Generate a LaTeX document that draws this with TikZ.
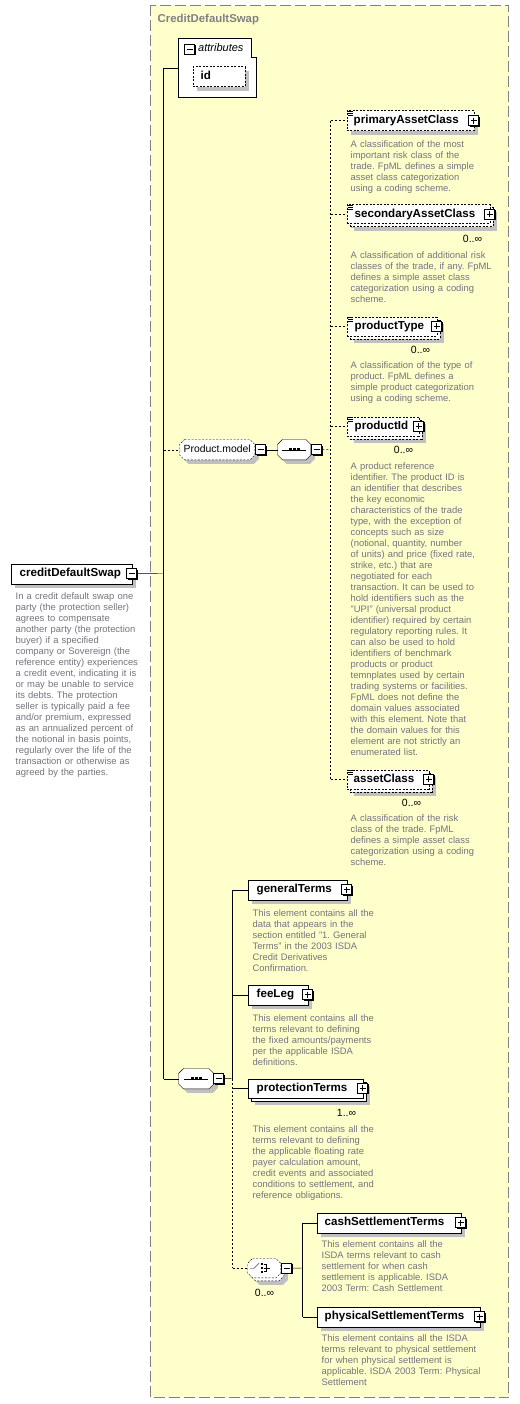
\documentclass[tikz,border=0pt]{standalone}
\usepackage{fontspec}
\setmainfont{Liberation Sans}
\usetikzlibrary{shadows,calc}
\definecolor{yel}{RGB}{255,255,204}
\definecolor{frame}{RGB}{128,128,128}
\definecolor{shd}{RGB}{192,192,192}
\definecolor{dtext}{RGB}{115,115,125}
\newcommand\lblfont{\fontsize{11.6}{13}\selectfont\bfseries}
\newcommand\titfont{\fontsize{11.4}{13}\selectfont\bfseries}
\newcommand\regfont{\fontsize{10.4}{12}\selectfont}
\newcommand\itfont{\fontsize{11}{13}\selectfont\itshape}
\newcommand\multfont{\fontsize{10.5}{12}\selectfont}
\newcommand\descfont{\fontsize{9.4}{11}\selectfont}
\newcommand\fs{\rule{0pt}{8pt}}
\newcommand\octa[3]{\path[#2] ([xshift=#3]#1.north west) -- ([xshift=-#3]#1.north east) -- ([yshift=-#3]#1.north east) -- ([yshift=#3]#1.south east) -- ([xshift=-#3]#1.south east) -- ([xshift=#3]#1.south west) -- ([yshift=#3]#1.south west) -- ([yshift=-#3]#1.north west) -- cycle;}
\newcommand\optmark[1]{\foreach \k in {1,3,5}{\draw[line width=0.9pt] ([xshift=1pt,yshift=-\k pt]#1.north west) -- ++(5pt,0pt);}}
\newcommand\seqicon[1]{\draw ([xshift=-12pt]#1.center) -- ([xshift=12pt]#1.center);
  \foreach \d in {-5.5,-1.5,2.5}{\fill ([xshift=\d pt, yshift=-1.5pt]#1.center) rectangle ++(3pt,3pt);}}
\pgfdeclarelayer{back}
\pgfdeclarelayer{shapes}
\pgfsetlayers{back,shapes,main}
\frenchspacing
\begin{document}
\begin{tikzpicture}[x=1pt,y=-1pt,line width=1pt,
  elbox/.style={draw=black, fill=white, anchor=north west, inner xsep=0pt, inner ysep=0pt,
    minimum height=20pt, text height=8.5pt, text depth=2.5pt, align=left, font=\lblfont,
    general shadow={fill=shd, shadow xshift=4pt, shadow yshift=-4pt}},
  opt/.style={dash pattern=on 2pt off 1.5pt},
  multi/.style={minimum height=19pt,
    general shadow={fill=shd, shadow xshift=7pt, shadow yshift=-7pt},
    general shadow={draw=black, fill=white, shadow xshift=3pt, shadow yshift=-3pt}},
  pmb/.style={draw=black, fill=white, minimum size=10pt, inner sep=0pt, line width=1pt,
    general shadow={fill=black, shadow xshift=1pt, shadow yshift=-1pt}},
  minusb/.style={pmb, path picture={\draw[line width=1pt] ([xshift=2pt]path picture bounding box.west) -- ([xshift=-2pt]path picture bounding box.east);}},
  plusb/.style={pmb, path picture={\draw[line width=1pt] ([xshift=2pt]path picture bounding box.west) -- ([xshift=-2pt]path picture bounding box.east);
      \draw[line width=1pt] ([yshift=-2pt]path picture bounding box.north) -- ([yshift=2pt]path picture bounding box.south);}},
  desc/.style={anchor=north west, inner sep=0pt, text width=200pt, align=left, font=\descfont, text=dtext},
  mult/.style={inner sep=0pt, font=\multfont},
  oct/.style={anchor=north west, inner sep=0pt, minimum height=20pt, font=\regfont, text height=8pt, text depth=2pt},
  dcon/.style={dash pattern=on 2pt off 2pt}]
\useasboundingbox (0,0) rectangle (519,1404);
\begin{scope}[shift={(0.5,0.5)}]
\begin{pgfonlayer}{back}
\draw[frame, dash pattern=on 11pt off 4pt, fill=yel] (150,5) rectangle (508,1397);
\end{pgfonlayer}
\node[anchor=west, inner sep=0pt, font=\titfont, text=frame, text height=8pt, text depth=2pt] (title) at (157,19) {CreditDefaultSwap};

% attributes
\path[draw=black, fill=white] (178,38) -- (251,38) -- (251,57) -- (256,57) -- (256,97) -- (178,97) -- cycle;
\node[minusb] (attrm) at (189,49) {};
\node[anchor=west, inner sep=0pt, font=\itfont, text height=8pt, text depth=2pt] (attr) at (197.5,48) {attributes};
\node[elbox, opt, text width=52pt] (id) at (192,66) {\hspace*{8pt}id};
\coordinate (attrL) at (178,68);

% root
\node[elbox, text width=121pt] (cds) at (10,563) {\hspace*{9pt}creditDefaultSwap};
\node[minusb] (cdsm) at (cds.east) {};
\node[desc, text width=160pt] (cdsd) at (15,590.5) {\fs In a credit default swap one\\party (the protection seller)\\agrees to compensate\\another party (the protection\\buyer) if a specified\\company or Sovereign (the\\reference entity) experiences\\a credit event, indicating it is\\or may be unable to service\\its debts. The protection\\seller is typically paid a fee\\and/or premium, expressed\\as an annualized percent of\\the notional in basis points,\\regularly over the life of the\\transaction or otherwise as\\agreed by the parties.};

% Product.model group
\node[oct, minimum width=75pt] (pm) at (179,439) {Product.model};
\node[minusb] (pmm) at ([xshift=6pt]pm.east) {};
\node[oct, minimum width=33pt] (s1) at (277,439) {};
\node[minusb] (s1m) at ([xshift=6pt]s1.east) {};
\seqicon{s1}

% product children
\node[elbox, opt, text width=127pt] (pac) at (346,110) {\hspace*{7pt}primaryAssetClass};
\optmark{pac}
\node[plusb] (pacp) at (pac.east) {};
\node[desc] (pacd) at (350,138.5) {\fs A classification of the most\\important risk class of the\\trade. FpML defines a simple\\asset class categorization\\using a coding scheme.};

\node[elbox, opt, multi, text width=143pt] (sac) at (346,204) {\hspace*{8pt}secondaryAssetClass};
\optmark{sac}
\node[plusb] (sacp) at (sac.east) {};
\node[mult] (sacn) at (472,238) {0..∞};
\node[desc] (sacd) at (350,249.5) {\fs A classification of additional risk\\classes of the trade, if any. FpML\\defines a simple asset class\\categorization using a coding\\scheme.};

\node[elbox, opt, multi, text width=90pt] (ptp) at (346,316) {\hspace*{8pt}productType};
\optmark{ptp}
\node[plusb] (ptpp) at (ptp.east) {};
\node[mult] (ptpn) at (420,349) {0..∞};
\node[desc] (ptpd) at (350,359.5) {\fs A classification of the type of\\product. FpML defines a\\simple product categorization\\using a coding scheme.};

\node[elbox, opt, multi, text width=72pt] (pid) at (346,416) {\hspace*{8pt}productId};
\optmark{pid}
\node[plusb] (pidp) at (pid.east) {};
\node[mult] (pidn) at (403,449) {0..∞};
\node[desc] (pidd) at (350,460.5) {\fs A product reference\\identifier. The product ID is\\an identifier that describes\\the key economic\\characteristics of the trade\\type, with the exception of\\concepts such as size\\(notional, quantity, number\\of units) and price (fixed rate,\\strike, etc.) that are\\negotiated for each\\transaction. It can be used to\\hold identifiers such as the\\"UPI" (universal product\\identifier) required by certain\\regulatory reporting rules. It\\can also be used to hold\\identifiers of benchmark\\products or product\\temnplates used by certain\\trading systems or facilities.\\FpML does not define the\\domain values associated\\with this element. Note that\\the domain values for this\\element are not strictly an\\enumerated list.};

\node[elbox, opt, multi, text width=82pt] (ac) at (346,769) {\hspace*{7pt}assetClass};
\optmark{ac}
\node[plusb] (acp) at (ac.east) {};
\node[mult] (acn) at (411,802) {0..∞};
\node[desc] (acd) at (350,812.5) {\fs A classification of the risk\\class of the trade. FpML\\defines a simple asset class\\categorization using a coding\\scheme.};

% main sequence
\node[oct, minimum width=35pt] (s2) at (178,1068) {};
\node[minusb] (s2m) at ([xshift=5pt]s2.east) {};
\seqicon{s2}

\node[elbox, text width=99pt] (gt) at (247,879) {\hspace*{9pt}generalTerms};
\node[plusb] (gtp) at (gt.east) {};
\node[desc] (gtd) at (252,907.5) {\fs This element contains all the\\data that appears in the\\section entitled "1. General\\Terms" in the 2003 ISDA\\Credit Derivatives\\Confirmation.};

\node[elbox, text width=60pt] (fl) at (247,984) {\hspace*{9pt}feeLeg};
\node[plusb] (flp) at (fl.east) {};
\node[desc] (fld) at (252,1012.5) {\fs This element contains all the\\terms relevant to defining\\the fixed amounts/payments\\per the applicable ISDA\\definitions.};

\node[elbox, multi, text width=115pt] (pt) at (247,1078) {\hspace*{9pt}protectionTerms};
\node[plusb] (ptp2) at (pt.east) {};
\node[mult] (ptn) at (346,1112) {1..∞};
\node[desc] (ptd) at (252,1123.5) {\fs This element contains all the\\terms relevant to defining\\the applicable floating rate\\payer calculation amount,\\credit events and associated\\conditions to settlement, and\\reference obligations.};

% choice
\node[oct, minimum width=33pt, minimum height=19pt] (ch) at (247,1258) {};
\node[minusb] (chm) at ([xshift=6pt]ch.east) {};
\node[mult] (chn) at (264,1292) {0..∞};
\draw ([xshift=-14pt]ch.center) -- ([xshift=-10pt]ch.center) -- ([xshift=-5pt,yshift=5pt]ch.center);
\foreach \d in {-4,0,4}{\fill ([xshift=-3.5pt,yshift=\d pt-1pt]ch.center) rectangle ++(2pt,2pt);}
\draw[line width=0.9pt] ([xshift=-0.5pt,yshift=3.5pt]ch.center) -- ([xshift=2.5pt,yshift=3.5pt]ch.center) -- ([xshift=2.5pt,yshift=-3.5pt]ch.center) -- ([xshift=-0.5pt,yshift=-3.5pt]ch.center);
\draw[line width=0.9pt] ([xshift=-0.5pt]ch.center) -- ([xshift=6pt]ch.center);

\node[elbox, text width=144pt] (cs) at (316,1212) {\hspace*{8pt}cashSettlementTerms};
\node[plusb] (csp) at (cs.east) {};
\node[desc] (csd) at (321,1238.5) {\fs This element contains all the\\ISDA terms relevant to cash\\settlement for when cash\\settlement is applicable. ISDA\\2003 Term: Cash Settlement};

\node[elbox, text width=163pt] (ps) at (316,1306) {\hspace*{8pt}physicalSettlementTerms};
\node[plusb] (psp) at (ps.east) {};
\node[desc] (psd) at (321,1332.5) {\fs This element contains all the ISDA\\terms relevant to physical settlement\\for when physical settlement is\\applicable. ISDA 2003 Term: Physical\\Settlement};

% octagon shapes
\begin{pgfonlayer}{shapes}
\octa{pm}{fill=shd, transform canvas={shift={(4,4)}}}{5pt}
\octa{pm}{draw=black, fill=white, opt}{5pt}
\octa{s1}{fill=shd, transform canvas={shift={(4,4)}}}{5pt}
\octa{s1}{draw=black, fill=white}{5pt}
\octa{s2}{fill=shd, transform canvas={shift={(4,4)}}}{5pt}
\octa{s2}{draw=black, fill=white}{5pt}
\octa{ch}{fill=shd, transform canvas={shift={(7,7)}}}{5pt}
\octa{ch}{draw=black, fill=white, opt, transform canvas={shift={(3,3)}}}{5pt}
\octa{ch}{draw=black, fill=white, opt}{5pt}
\end{pgfonlayer}

% connectors
\coordinate (sp) at (163,573);
\draw (cdsm.east) -- (sp);
\draw (attrL -| sp) -- (s2.west -| sp);
\draw (attrL -| sp) -- (attrL);
\draw[dcon] (pm.west -| sp) -- (pm.west);
\draw (s2.west -| sp) -- (s2.west);
\draw (pmm.east) -- (s1.west);
\coordinate (k1) at (330,449);
\draw[dcon] (s1m.east) -- (k1);
\draw[dcon] (pac.west -| k1) -- (ac.west -| k1);
\draw[dcon] (pac.west -| k1) -- (pac.west);
\draw[dcon] (sac.west -| k1) -- (sac.west);
\draw[dcon] (ptp.west -| k1) -- (ptp.west);
\draw[dcon] (pid.west -| k1) -- (pid.west);
\draw[dcon] (ac.west -| k1) -- (ac.west);
\coordinate (sq) at (232,1078);
\draw (s2m.east) -- (sq);
\draw (gt.west -| sq) -- (sq);
\draw[dcon] (sq) -- (ch.west -| sq);
\draw (gt.west -| sq) -- (gt.west);
\draw (fl.west -| sq) -- (fl.west);
\draw (pt.west -| sq) -- (pt.west);
\draw[dcon] (ch.west -| sq) -- (ch.west);
\coordinate (cq) at (302,1267.5);
\draw (chm.east) -- (cq);
\draw (cs.west -| cq) -- (ps.west -| cq);
\draw (cs.west -| cq) -- (cs.west);
\draw (ps.west -| cq) -- (ps.west);
\end{scope}
\end{tikzpicture}
\end{document}
